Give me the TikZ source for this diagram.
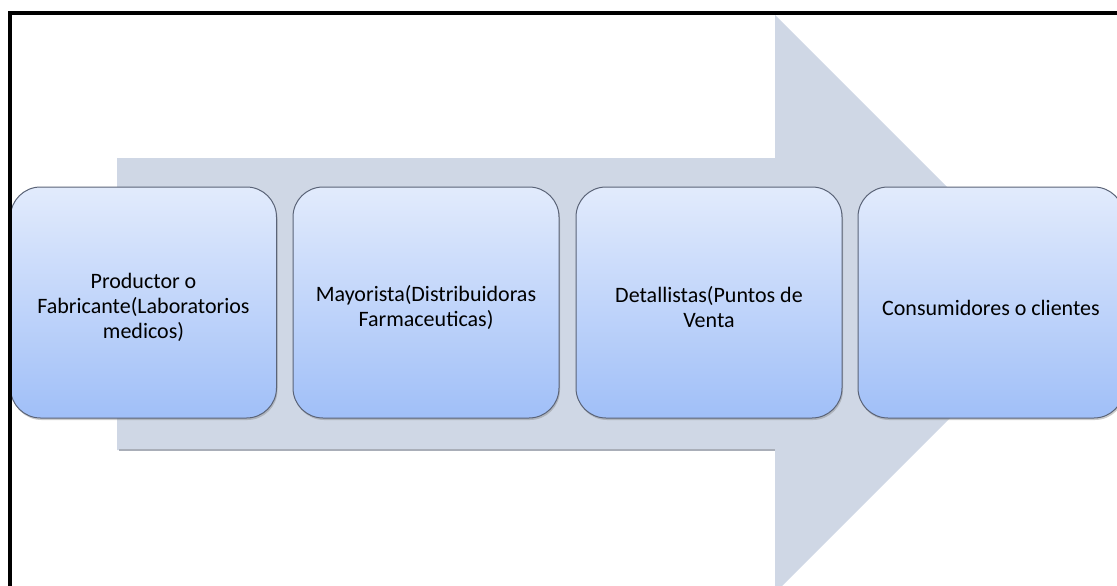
\documentclass[tikz,border=0pt]{standalone}
\usepackage{fontspec}
\setmainfont{Carlito}
\usetikzlibrary{shadows}
\definecolor{arrowfill}{HTML}{CFD7E5}
\definecolor{arrowedge}{HTML}{A9AEB8}
\definecolor{boxtop}{HTML}{E2EBFC}
\definecolor{boxbot}{HTML}{A0BFF8}
\definecolor{boxedge}{HTML}{5A6377}
\begin{document}
\begin{tikzpicture}[x=1pt,y=-1pt,
  stage/.style={draw=boxedge, line width=1pt, rounded corners=30pt,
    top color=boxtop, bottom color=boxbot,
    minimum width=266pt, minimum height=231pt, inner sep=0pt,
    drop shadow={shadow xshift=1pt, shadow yshift=-2pt, opacity=0.4}},
  stagetext/.style={align=center, text=black, inner sep=0pt,
    font=\fontsize{22}{25}\selectfont, yshift=-5pt},
  frame/.style={line width=4pt, draw=black}]
\useasboundingbox (0,0) rectangle (1117,586);

% broad background arrow
\fill[arrowfill] (117,158) -- (775,158) -- (775,15) -- (1064,304)
  -- (775,593) -- (775,450) -- (117,450) -- cycle;
\draw[arrowedge, line width=1.2pt] (119,450) -- (775,450);

% the four stages of the distribution chain
\node[stage] (prod) at (143.5,302.5) {};
\node[stage] (mayo) at (426,302.5) {};
\node[stage] (deta) at (709,302.5) {};
\node[stage] (cons) at (991,302.5) {};

\node[stagetext] (prodtxt) at (prod) {Productor o\\Fabricante(Laboratorios\\medicos)};
\node[stagetext] (mayotxt) at (mayo) {Mayorista(Distribuidoras\\Farmaceuticas)};
\node[stagetext] (detatxt) at (deta) {Detallistas(Puntos de\\Venta};
\node[stagetext] (constxt) at (cons) {Consumidores o clientes};

% page frame (left and top edges)
\draw[frame] (10,600) -- (10,13) -- (1130,13);
\end{tikzpicture}
\end{document}
